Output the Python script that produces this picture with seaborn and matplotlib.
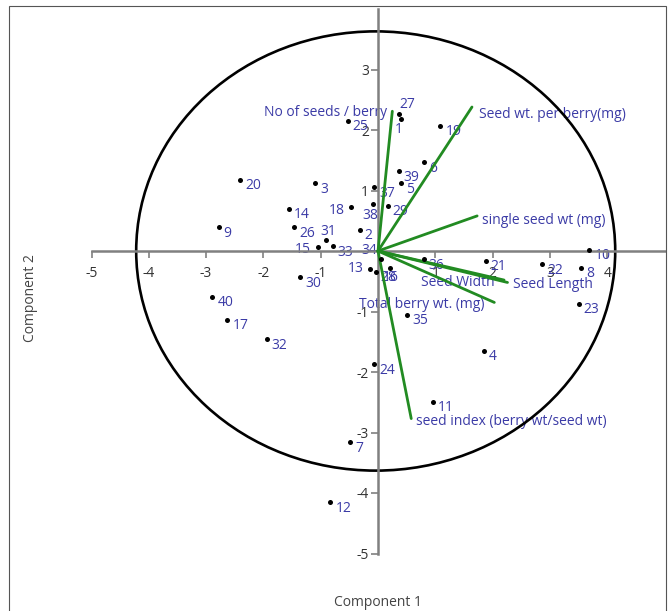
import matplotlib
matplotlib.use("Agg")
import matplotlib.pyplot as plt
from matplotlib.patches import Ellipse, Rectangle
import pandas as pd
import seaborn as sns

# scores of the 40 genotypes on the first two components
POINT_IDS = list(range(1, 41))
PC1 = [0.40, -0.32, -1.10, 1.85, 0.41, 0.81, -0.48, 3.55, -2.78, 3.69,
       0.96, -0.83, -0.14, -1.56, -1.05, 0.21, -2.63, -0.47, 1.09, -2.41,
       1.88, 2.87, 3.50, -0.07, -0.53, -1.46, 0.37, -0.04, 0.17, -1.36,
       -0.91, -1.94, -0.79, 0.06, 0.51, 0.80, -0.07, -0.08, 0.36, -2.89]
PC2 = [2.18, 0.35, 1.12, -1.65, 1.12, 1.47, -3.16, -0.28, 0.39, 0.02,
       -2.49, -4.15, -0.29, 0.70, 0.06, -0.28, -1.14, 0.72, 2.07, 1.18,
       -0.16, -0.22, -0.87, -1.87, 2.15, 0.39, 2.27, -0.34, 0.75, -0.43,
       0.19, -1.46, 0.08, -0.13, -1.05, -0.14, 1.05, 0.77, 1.32, -0.76]

# variable loadings (biplot arrows)
VAR_NAMES = ["No of seeds / berry", "Seed wt. per berry(mg)", "single seed wt (mg)",
             "Seed Width", "Seed Length", "Total berry wt. (mg)",
             "seed index (berry wt/seed wt)"]
VAR_PC1 = [0.25, 1.64, 1.73, 2.20, 2.26, 2.03, 0.58]
VAR_PC2 = [2.31, 2.38, 0.58, -0.48, -0.52, -0.85, -2.77]

# label placement (pixels right, pixels down, alignment)
POINT_LABEL_POS = {
    27: (0, -9, "left"), 1: (-6, 10, "left"), 18: (-6, 3, "right"),
    38: (-11, 11, "left"), 31: (-5, -8, "left"), 15: (-7, 2, "right"),
    13: (-6, 0, "right"), 34: (-4, -8, "right"), 16: (-7, 10, "left"),
}
VAR_LABEL_POS = {
    "No of seeds / berry": (-5, 1, "right"),
    "Seed wt. per berry(mg)": (7, 7, "left"),
    "single seed wt (mg)": (5, 5, "left"),
    "Seed Width": (-9, 2, "right"),
    "Seed Length": (6, 2, "left"),
    "Total berry wt. (mg)": (-10, 2, "right"),
    "seed index (berry wt/seed wt)": (5, 3, "left"),
}

LABEL_BLUE = "#3b3ba6"
GREEN = "#228b22"
AXIS_GREY = "#808080"
FS = 10

sns.set_style("white")
plt.rcParams["font.family"] = ["Open Sans", "DejaVu Sans"]
plt.rcParams["axes.unicode_minus"] = False

fig = plt.figure(figsize=(6.68, 6.11), dpi=100)
ax = fig.add_axes([91.5 / 668, 57.5 / 611, 573 / 668, 544.5 / 611])
ax.patch.set_alpha(0)

scores = pd.DataFrame({"id": POINT_IDS, "pc1": PC1, "pc2": PC2})

rows = []
for name, x, y in zip(VAR_NAMES, VAR_PC1, VAR_PC2):
    rows.append({"var": name, "x": 0.0, "y": 0.0})
    rows.append({"var": name, "x": x, "y": y})
arrows = pd.DataFrame(rows)

# unit circle of the biplot
ax.add_patch(Ellipse((-0.04, 0.0), width=8.36, height=7.26, fill=False,
                     edgecolor="black", lw=1.9, zorder=2))

sns.lineplot(data=arrows, x="x", y="y", units="var", estimator=None, sort=False,
             color=GREEN, lw=2.0, legend=False, ax=ax, zorder=3)
sns.scatterplot(data=scores, x="pc1", y="pc2", color="black", s=13,
                linewidth=0, legend=False, ax=ax, zorder=4)

for pid, x, y in zip(scores["id"], scores["pc1"], scores["pc2"]):
    dx, dy, ha = POINT_LABEL_POS.get(pid, (5, 6, "left"))
    ax.annotate(str(pid), (x, y), xytext=(dx, -dy), textcoords="offset pixels",
                ha=ha, va="center", fontsize=FS, color=LABEL_BLUE, zorder=1)

for name, x, y in zip(VAR_NAMES, VAR_PC1, VAR_PC2):
    dx, dy, ha = VAR_LABEL_POS[name]
    ax.annotate(name, (x, y), xytext=(dx, -dy), textcoords="offset pixels",
                ha=ha, va="center", fontsize=FS, color=LABEL_BLUE, zorder=1)

ax.set_xlim(-5, 5)
ax.set_ylim(-5, 4)
ax.set(xlabel="", ylabel="")
ax.spines["left"].set_position(("data", 0))
ax.spines["bottom"].set_position(("data", 0))
ax.spines[["top", "right"]].set_visible(False)
for side in ["left", "bottom"]:
    ax.spines[side].set_color(AXIS_GREY)
    ax.spines[side].set_linewidth(1.8)
ax.set_xticks([-5, -4, -3, -2, -1, 1, 2, 3, 4])
ax.set_yticks([-5, -4, -3, -2, -1, 1, 2, 3])
ax.tick_params(bottom=True, left=True, direction="out", length=5, width=1.2,
               color=AXIS_GREY, labelsize=FS, labelcolor="#333333")
ax.tick_params(axis="x", pad=6)
ax.tick_params(axis="y", pad=1.5)

fig.text(378 / 668, 1 - 602 / 611, "Component 1", ha="center", va="center",
         fontsize=FS, color="#444444")
fig.text(30 / 668, 1 - 298 / 611, "Component 2", ha="center", va="center",
         rotation=90, fontsize=FS, color="#444444")

fig.patches.append(Rectangle((8.5 / 668, -0.01), 657 / 668, 1 - 6 / 611 + 0.01,
                             transform=fig.transFigure, fill=False,
                             edgecolor="#555555", lw=0.8))

fig.savefig("out.png", dpi=100)
